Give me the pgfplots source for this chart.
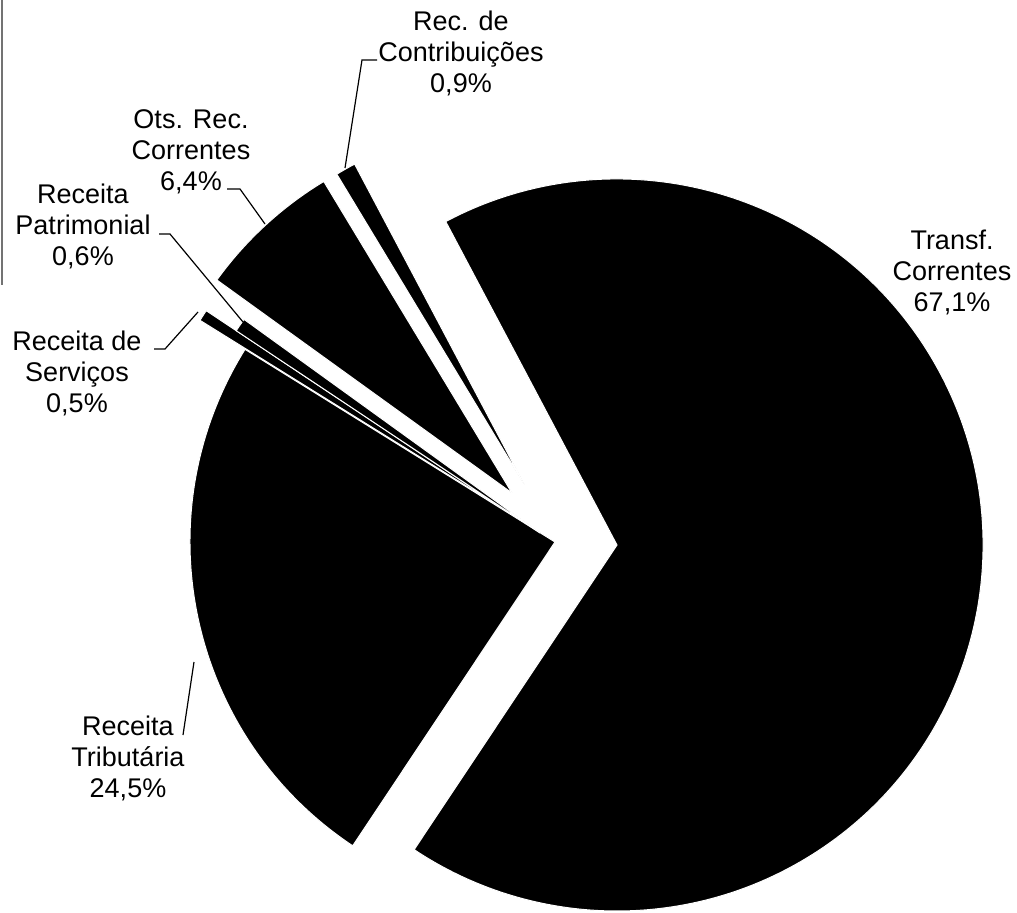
\documentclass[border=0pt]{standalone}
\usepackage{pgfplots}
\pgfplotsset{compat=1.18}
\usepackage{pgfplotstable}
\usepackage{fontspec}
\setmainfont{Liberation Sans}
\newcommand\lbl{\fontsize{13.5}{15.5}\selectfont}

% pct = share (%), tipx/tipy = wedge tip in picture pixels (y downwards), r = radius (px)
\pgfplotstableread{
name pct tipx tipy r
Transf 67.1 617 545 366
Trib 24.5 555 542 365
Serv 0.5 510 513 365
Patr 0.6 540 533 365
Ots 6.4 512 493 364
Contrib 0.9 524 484 362
}\slices

\xdef\cum{117.9}
\foreach \i in {0,...,5}{%
  \pgfplotstablegetelem{\i}{pct}\of\slices\let\myP\pgfplotsretval
  \pgfplotstablegetelem{\i}{tipx}\of\slices\let\myX\pgfplotsretval
  \pgfplotstablegetelem{\i}{tipy}\of\slices\let\myT\pgfplotsretval
  \pgfplotstablegetelem{\i}{r}\of\slices\let\myRR\pgfplotsretval
  \pgfmathsetmacro\myB{\cum-3.6*\myP}%
  \pgfmathsetmacro\myY{912-\myT}%
  \pgfmathsetmacro\myR{0.5*\myRR}%
  \expandafter\xdef\csname sA\i\endcsname{\cum}%
  \expandafter\xdef\csname sB\i\endcsname{\myB}%
  \expandafter\xdef\csname tx\i\endcsname{\myX}%
  \expandafter\xdef\csname ty\i\endcsname{\myY}%
  \expandafter\xdef\csname rr\i\endcsname{\myR pt}%
  \xdef\cum{\myB}%
}

\begin{document}
\begin{tikzpicture}
\begin{axis}[x=0.5pt, y=0.5pt, xmin=0, xmax=1017, ymin=0, ymax=912,
  hide axis, clip=false, scale only axis]
\pgfplotsinvokeforeach{0,...,5}{%
  \fill[black, draw=white, line width=0.5pt, line join=miter]
    (axis cs:\csname tx#1\endcsname,\csname ty#1\endcsname)
    -- ++(\csname sA#1\endcsname:\csname rr#1\endcsname)
    arc[start angle=\csname sA#1\endcsname, end angle=\csname sB#1\endcsname, radius=\csname rr#1\endcsname]
    -- cycle;
}
% leader lines
\addplot[black, line width=0.6pt, mark=none] coordinates {(377,852) (362,852) (345,744)};
\addplot[black, line width=0.6pt, mark=none] coordinates {(227,723) (240,723) (265,688)};
\addplot[black, line width=0.6pt, mark=none] coordinates {(159,678) (170,678) (243,590)};
\addplot[black, line width=0.6pt, mark=none] coordinates {(154,563) (165,563) (198,600)};
\addplot[black, line width=0.6pt, mark=none] coordinates {(183,177) (194,250)};
% scan edge line
\addplot[black!55, line width=0.6pt, mark=none] coordinates {(2,912) (2,627)};
% labels
\node[align=center, font=\lbl] at (axis cs:461,859) {Rec. de\\Contribuições\\0,9\%};
\node[align=center, font=\lbl] at (axis cs:191,760) {Ots. Rec.\\Correntes\\6,4\%};
\node[align=center, font=\lbl] at (axis cs:83,686) {Receita\\Patrimonial\\0,6\%};
\node[align=center, font=\lbl] at (axis cs:77,539) {Receita de\\Serviços\\0,5\%};
\node[align=center, font=\lbl] at (axis cs:128,154) {Receita\\Tributária\\24,5\%};
\node[align=center, font=\lbl] at (axis cs:952,640) {Transf.\\Correntes\\67,1\%};
\end{axis}
\pgfresetboundingbox
\path[use as bounding box] (current axis.south west) rectangle (current axis.north east);
\end{tikzpicture}
\end{document}
